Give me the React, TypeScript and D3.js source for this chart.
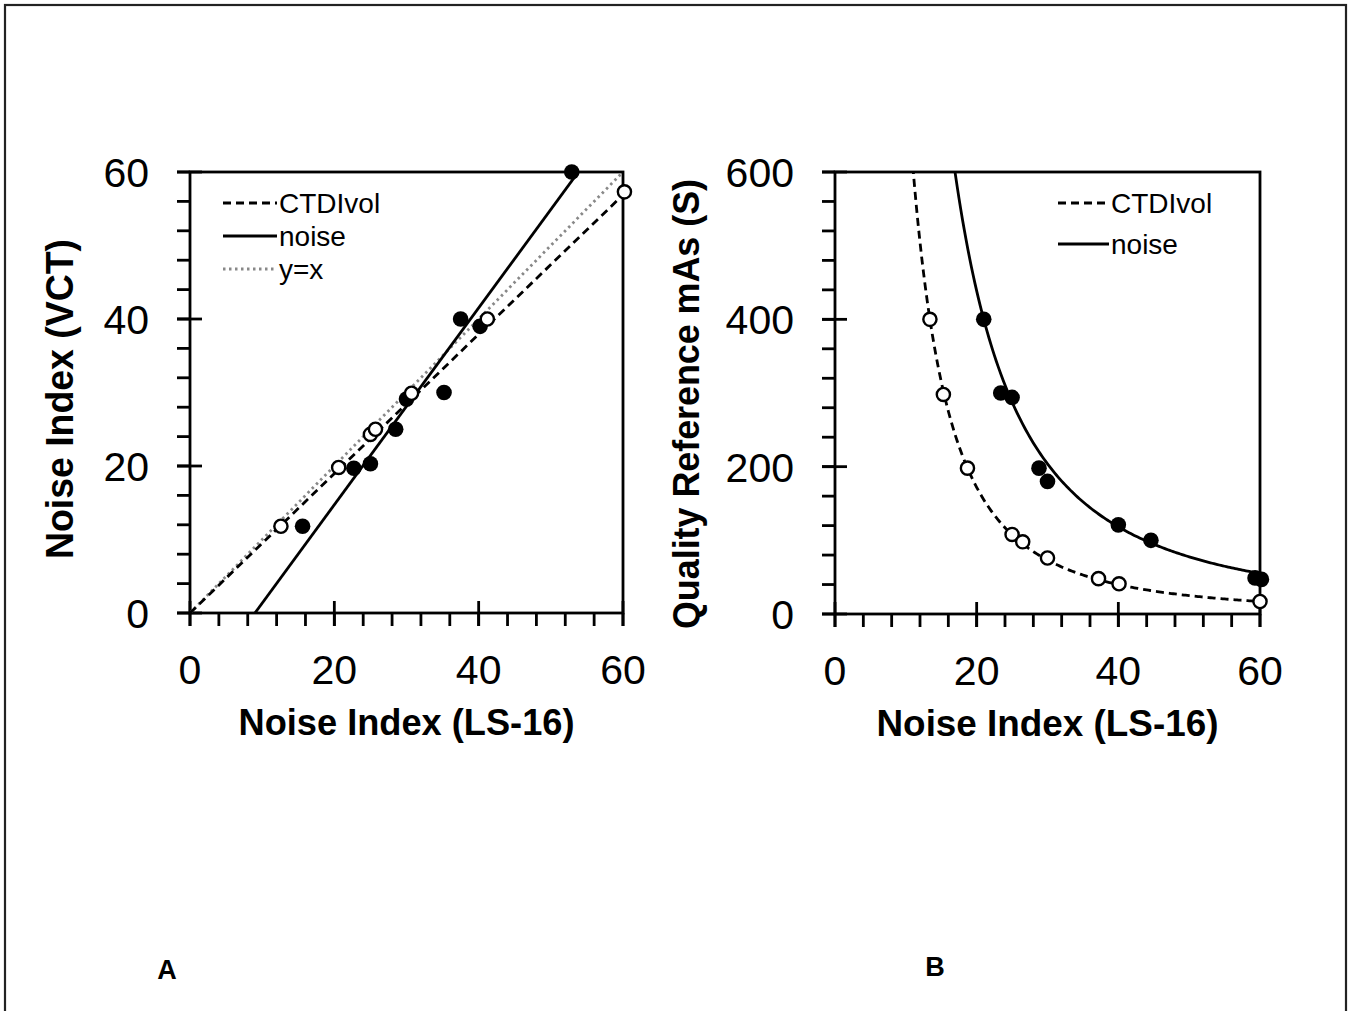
import React from "react";
import * as d3 from "d3";

// ---------- Data ----------
// Panel A: Noise Index (LS-16) vs Noise Index (VCT)
const aNoiseX = [15.6, 22.7, 25.0, 28.5, 30.0, 35.2, 37.5, 40.2, 52.9];
const aNoiseY = [11.8, 19.7, 20.3, 25.0, 29.1, 30.0, 40.0, 39.0, 60.0];
const aCtdiX = [12.6, 20.6, 25.0, 25.7, 30.7, 41.2, 60.2];
const aCtdiY = [11.8, 19.8, 24.3, 25.0, 29.9, 40.0, 57.3];
// linear fits (slope, intercept)
const aNoiseFit = [1.339, -12.05];
const aCtdiFit = [0.948, 0];

// Panel B: Noise Index (LS-16) vs Quality Reference mAs
const bNoiseX = [21.0, 23.4, 25.0, 28.8, 30.0, 40.0, 44.6, 59.3, 60.2];
const bNoiseY = [400, 300, 294, 198, 180, 121, 100, 49, 47];
const bCtdiX = [13.4, 15.3, 18.7, 25.0, 26.5, 30.0, 37.2, 40.1, 60.0];
const bCtdiY = [400, 298, 198, 108, 98, 76, 48, 41, 17];
// power fits y = a * x^b
const bNoiseFit = [126200, -1.89];
const bCtdiFit = [94800, -2.107];

const xTicks = [0, 20, 40, 60];
const aYTicks = [0, 20, 40, 60];
const bYTicks = [0, 200, 400, 600];

const FONT = "'Liberation Sans', Arial, sans-serif";
const SW = 2.8;

type PanelProps = {
  left: number; right: number; top: number; bottom: number;
  yMax: number; yTicks: number[]; yMinorStep: number;
  yTitle: string; yTitleX: number; yTitleY: number; yTitleLen: number; yTitleSize: number;
  xTitleLen: number;
  panelLabel: string; labelX: number; labelY: number;
  children: (x: d3.ScaleLinear<number, number>, y: d3.ScaleLinear<number, number>) => React.ReactNode;
  clipId: string;
};

function Panel(p: PanelProps) {
  const x = d3.scaleLinear().domain([0, 60]).range([p.left, p.right]);
  const y = d3.scaleLinear().domain([0, p.yMax]).range([p.bottom, p.top]);
  const xMinor = d3.range(0, 60.001, 4);
  const yMinor = d3.range(0, p.yMax + 0.001, p.yMinorStep);
  return (
    <g>
      <defs>
        <clipPath id={p.clipId}>
          <rect x={p.left} y={p.top} width={p.right - p.left} height={p.bottom - p.top} />
        </clipPath>
      </defs>
      <rect x={p.left} y={p.top} width={p.right - p.left} height={p.bottom - p.top}
        fill="none" stroke="#000" strokeWidth={SW} />
      {xMinor.map((v) => (
        <line key={"xm" + v} x1={x(v)} x2={x(v)} y1={p.bottom} y2={p.bottom + 13} stroke="#000" strokeWidth={SW} />
      ))}
      {yMinor.map((v) => (
        <line key={"ym" + v} x1={p.left - 13} x2={p.left} y1={y(v)} y2={y(v)} stroke="#000" strokeWidth={SW} />
      ))}
      {xTicks.map((v) => (
        <line key={"xM" + v} x1={x(v)} x2={x(v)} y1={p.bottom - 12} y2={p.bottom + 13} stroke="#000" strokeWidth={SW} />
      ))}
      {p.yTicks.map((v) => (
        <line key={"yM" + v} x1={p.left - 13} x2={p.left + 12} y1={y(v)} y2={y(v)} stroke="#000" strokeWidth={SW} />
      ))}
      {xTicks.map((v) => (
        <text key={"xl" + v} x={x(v)} y={p.bottom + 71} textAnchor="middle" fontSize={41} fontFamily={FONT}>{v}</text>
      ))}
      {p.yTicks.map((v) => (
        <text key={"yl" + v} x={p.left - 41} y={y(v) + 15} textAnchor="end" fontSize={41} fontFamily={FONT}>{v}</text>
      ))}
      <text x={(p.left + p.right) / 2} y={p.bottom + 122} textAnchor="middle" fontSize={37}
        fontWeight="bold" fontFamily={FONT} textLength={p.xTitleLen} lengthAdjust="spacingAndGlyphs">Noise Index (LS-16)</text>
      <text transform={`translate(${p.yTitleX},${p.yTitleY}) rotate(-90)`} textAnchor="middle"
        fontSize={p.yTitleSize} fontWeight="bold" fontFamily={FONT}
        textLength={p.yTitleLen} lengthAdjust="spacingAndGlyphs">{p.yTitle}</text>
      <text x={p.labelX} y={p.labelY} textAnchor="middle" fontSize={27} fontWeight="bold" fontFamily={FONT}>{p.panelLabel}</text>
      <g clipPath={`url(#${p.clipId})`}>{p.children(x, y)}</g>
    </g>
  );
}

function Markers({ xs, ys, x, y, open }: { xs: number[]; ys: number[]; x: any; y: any; open: boolean }) {
  return (
    <g>
      {xs.map((v, i) => (
        <circle key={i} cx={x(v)} cy={y(ys[i])} r={open ? 6.6 : 7.8}
          fill={open ? "#fff" : "#000"} stroke="#000" strokeWidth={open ? 2.4 : 0} />
      ))}
    </g>
  );
}

export default function App() {
  const lineGen = (x: any, y: any) => d3.line<[number, number]>().x((d) => x(d[0])).y((d) => y(d[1]));
  const dash = "8,5";
  return (
    <svg width={1353} height={1011} style={{ position: "absolute", left: 0, top: 0, background: "#fff" }}>
      <rect x={5} y={5} width={1341} height={1012} fill="#fff" stroke="#222" strokeWidth={2.2} />
      <Panel left={190} right={623} top={172} bottom={613} yMax={60} yTicks={aYTicks} yMinorStep={4}
        yTitle="Noise Index (VCT)" yTitleX={73} yTitleY={399} yTitleLen={320} yTitleSize={38}
        xTitleLen={336}
        panelLabel="A" labelX={167} labelY={979} clipId="clipA">
        {(x, y) => {
          const L = lineGen(x, y);
          const lin = (f: number[]) => [0, 60].map((v) => [v, f[0] * v + f[1]] as [number, number]);
          return (
            <g>
              <path d={L([[0, 0], [60, 60]]) || ""} fill="none" stroke="#888" strokeWidth={2.8} strokeDasharray="2.5,3.5" />
              <path d={L(lin(aCtdiFit)) || ""} fill="none" stroke="#000" strokeWidth={2.8} strokeDasharray={dash} />
              <path d={L(lin(aNoiseFit)) || ""} fill="none" stroke="#000" strokeWidth={2.8} />
            </g>
          );
        }}
      </Panel>
      <Panel left={835} right={1260} top={172} bottom={614} yMax={600} yTicks={bYTicks} yMinorStep={40}
        yTitle="Quality Reference mAs (S)" yTitleX={699} yTitleY={404} yTitleLen={450} yTitleSize={37}
        xTitleLen={342}
        panelLabel="B" labelX={935} labelY={976} clipId="clipB">
        {(x, y) => {
          const L = lineGen(x, y);
          const pw = (f: number[]) => d3.range(9, 60.01, 0.25).map((v) => [v, f[0] * Math.pow(v, f[1])] as [number, number]);
          return (
            <g>
              <path d={L(pw(bCtdiFit)) || ""} fill="none" stroke="#000" strokeWidth={2.8} strokeDasharray={dash} />
              <path d={L(pw(bNoiseFit)) || ""} fill="none" stroke="#000" strokeWidth={2.8} />
            </g>
          );
        }}
      </Panel>
      {(() => {
        const xA = d3.scaleLinear().domain([0, 60]).range([190, 623]);
        const yA = d3.scaleLinear().domain([0, 60]).range([613, 172]);
        const xB = d3.scaleLinear().domain([0, 60]).range([835, 1260]);
        const yB = d3.scaleLinear().domain([0, 600]).range([614, 172]);
        return (
          <g>
            <Markers xs={aNoiseX} ys={aNoiseY} x={xA} y={yA} open={false} />
            <Markers xs={aCtdiX} ys={aCtdiY} x={xA} y={yA} open={true} />
            <Markers xs={bNoiseX} ys={bNoiseY} x={xB} y={yB} open={false} />
            <Markers xs={bCtdiX} ys={bCtdiY} x={xB} y={yB} open={true} />
          </g>
        );
      })()}
      <g fontFamily={FONT} fontSize={28}>
        <line x1={223} x2={277} y1={203} y2={203} stroke="#000" strokeWidth={2.8} strokeDasharray="8,5" />
        <text x={279} y={213}>CTDIvol</text>
        <line x1={223} x2={277} y1={236} y2={236} stroke="#000" strokeWidth={2.8} />
        <text x={279} y={246}>noise</text>
        <line x1={223} x2={277} y1={269} y2={269} stroke="#888" strokeWidth={2.8} strokeDasharray="2.5,3.5" />
        <text x={279} y={279}>y=x</text>
        <line x1={1058} x2={1109} y1={203} y2={203} stroke="#000" strokeWidth={2.8} strokeDasharray="8,5" />
        <text x={1111} y={213}>CTDIvol</text>
        <line x1={1058} x2={1109} y1={244} y2={244} stroke="#000" strokeWidth={2.8} />
        <text x={1111} y={254}>noise</text>
      </g>
    </svg>
  );
}
